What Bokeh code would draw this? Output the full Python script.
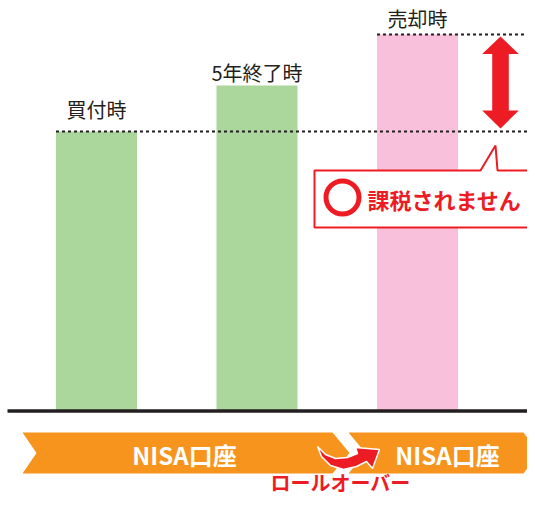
from bokeh.plotting import figure
from bokeh.models import Range1d
from bokeh.core.properties import value
from bokeh.embed import file_html
from bokeh.resources import INLINE

# ---- data ----
categories = ["買付時", "5年終了時", "売却時"]
bar_values = [100, 116.5, 134.7]
bar_colors = ["#abd69c", "#abd69c", "#f8c0da"]
label_dy = [22, 13, 16]          # label distance above bar top (px)
account_labels = ["NISA口座", "NISA口座"]
callout_text = "課税されません"
rollover_text = "ロールオーバー"

# ---- pixel <-> data helpers (picture pixels) ----
X0, XS = 96.0, 160.5
Y0, YS = 410.5, 2.795
def px(u): return (u - X0) / XS
def py(v): return (Y0 - v) / YS

W, H = 527, 497
p = figure(width=W, height=H, output_backend="svg", toolbar_location=None,
           x_range=Range1d(px(0), px(W)), y_range=Range1d(py(H), py(0)),
           min_border=0)
p.axis.visible = False
p.grid.visible = False
p.outline_line_color = None
p.background_fill_color = "white"
p.border_fill_color = "white"

xs = list(range(len(categories)))
BW = 81 / XS
p.vbar(x=xs, top=bar_values, bottom=0, width=BW, fill_color=bar_colors, line_color=None)

# baseline
p.segment(x0=[px(7)], y0=[0], x1=[px(540)], y1=[0], line_color="#231f20", line_width=3.5)

# dotted reference lines
p.segment(x0=[xs[0] - BW / 2, xs[2] - BW / 2], y0=[bar_values[0], bar_values[2]],
          x1=[px(540), px(540)], y1=[bar_values[0], bar_values[2]],
          line_color="#231f20", line_width=1.8, line_dash="3 3")

# labels
label_y = [v + d / YS for v, d in zip(bar_values, label_dy)]
p.text(x=xs, y=label_y, text=categories, text_align="center", text_baseline="middle",
       text_font=value("Noto Sans CJK JP"), text_font_size="20px", text_color="#231f20")

RED = "#ed1c24"
# double arrow
cx = 500
hw, sw = 18.3, 8.3
t, hb1, hb2, b = 36, 53.5, 110, 128
arr = [(cx, t), (cx + hw, hb1), (cx + sw, hb1), (cx + sw, hb2), (cx + hw, hb2), (cx, b),
       (cx - hw, hb2), (cx - sw, hb2), (cx - sw, hb1), (cx - hw, hb1)]
p.patch([px(a) for a, _ in arr], [py(c) for _, c in arr], fill_color=RED, line_color=None)

# callout box
box = [(314, 170), (480, 170), (495, 145), (497, 170), (545, 170), (545, 227), (314, 227)]
p.patch([px(a) for a, _ in box], [py(c) for _, c in box], fill_color="white",
        line_color=RED, line_width=2)
p.scatter([px(342)], [py(197)], marker="circle", size=33, fill_alpha=0,
          line_color=RED, line_width=5)
p.text(x=[px(367)], y=[py(198)], text=[callout_text], text_align="left", text_baseline="middle",
       text_font=value("Noto Sans CJK JP"), text_font_style="bold", text_font_size="22px",
       text_color=RED)

# bottom banners
ORANGE = "#f7941d"
top_, bot_, mid_ = 432, 473, 452.5
b1 = [(22, top_), (332, top_), (349, mid_), (332, bot_), (22, bot_), (36, mid_)]
b2 = [(348, top_), (523, top_), (538, mid_), (523, bot_), (348, bot_), (365, mid_)]
for poly in (b1, b2):
    p.patch([px(a) for a, _ in poly], [py(c) for _, c in poly], fill_color=ORANGE, line_color=None)
p.text(x=[px(184), px(447)], y=[py(454), py(454)], text=account_labels, text_align="center",
       text_baseline="middle", text_font=value("Noto Sans CJK JP"), text_font_style="bold",
       text_font_size="24px", text_color="white")

# curved rollover arrow
ca = [(317, 446), (325, 454), (335, 458), (347, 457), (357, 453), (355, 447), (379, 449),
      (372, 468), (366, 461), (356, 466), (343, 469), (330, 465), (321, 456)]
p.patch([px(a) for a, _ in ca], [py(c) for _, c in ca], fill_color=RED, line_color="white",
        line_width=1.5)

p.text(x=[px(340)], y=[py(482)], text=[rollover_text], text_align="center", text_baseline="middle",
       text_font=value("Noto Sans CJK JP"), text_font_style="bold", text_font_size="20px",
       text_color=RED)

open("out.html", "w").write(file_html(p, INLINE))
